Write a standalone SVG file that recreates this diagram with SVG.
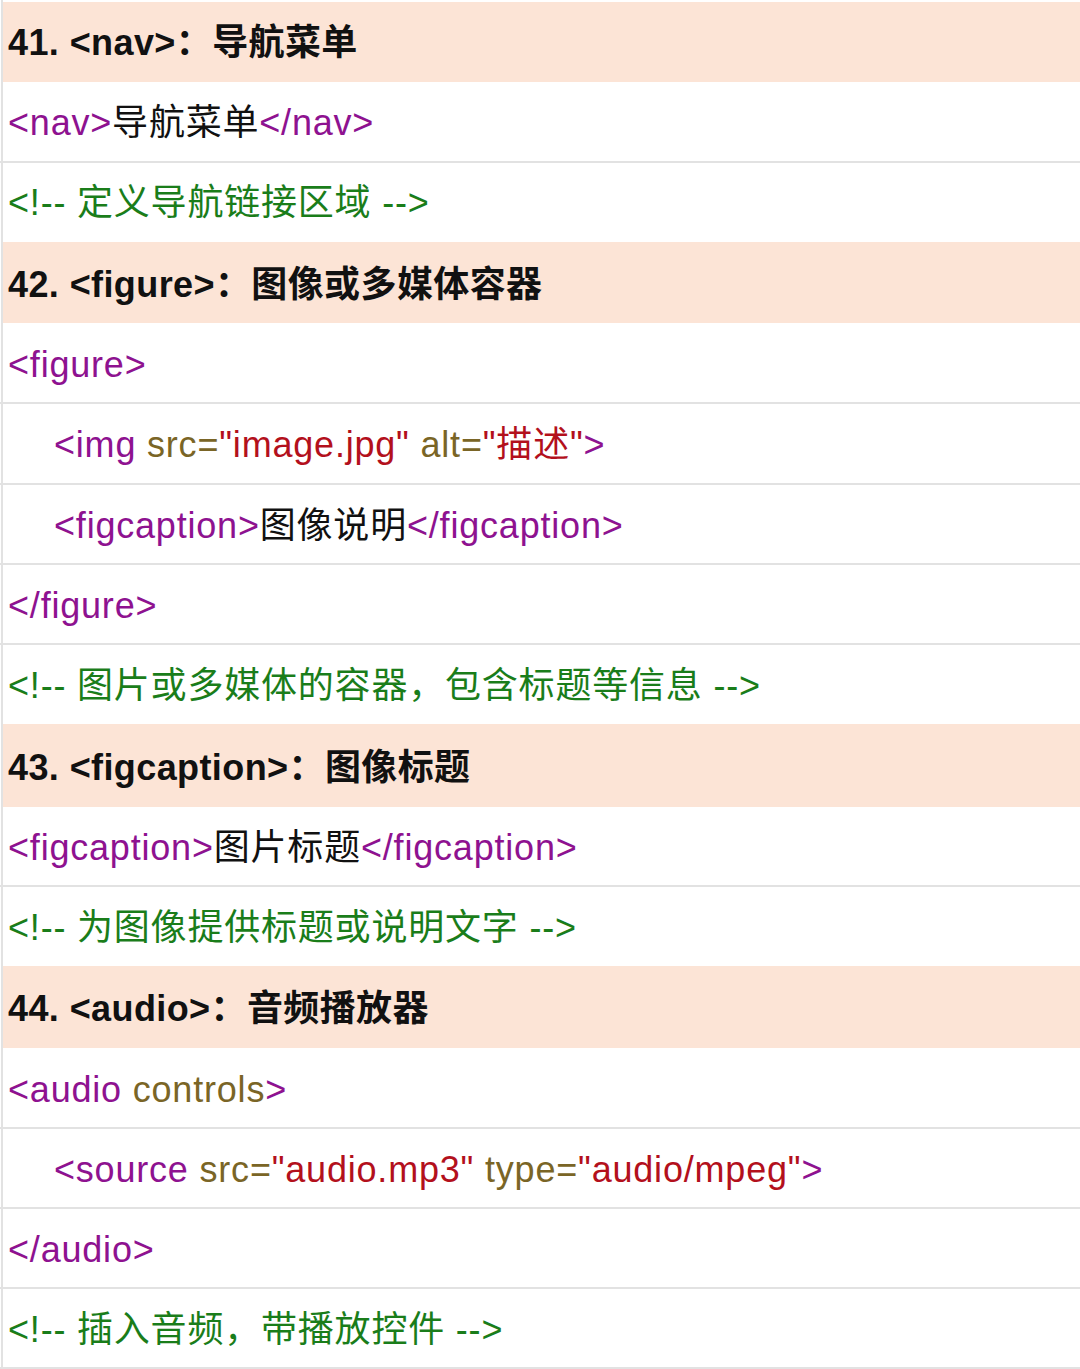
<svg xmlns="http://www.w3.org/2000/svg" width="1080" height="1369" viewBox="0 0 1080 1369">
<style>
text{font-family:"Liberation Sans","Noto Sans CJK SC",sans-serif;font-size:36px;fill:#111;letter-spacing:0.8px}
.b{font-weight:bold;letter-spacing:0.4px}
.h{fill:#fce4d6}
.t{fill:#8e1290}.a{fill:#7a6526}.s{fill:#b3101c}.c{fill:#1a7d1a}
</style>
<rect width="1080" height="1369" fill="#fff"/>
<g id="rows">
<rect class="h" x="2" y="2" width="1078" height="80"/>
<rect class="h" x="2" y="242" width="1078" height="81"/>
<rect class="h" x="2" y="724" width="1078" height="83"/>
<rect class="h" x="2" y="966" width="1078" height="82"/>
<g stroke="#e2e2e2" stroke-width="2">
<line x1="2" y1="0" x2="2" y2="1369"/>
<line x1="0" y1="162" x2="1080" y2="162"/>
<line x1="0" y1="403" x2="1080" y2="403"/>
<line x1="0" y1="484" x2="1080" y2="484"/>
<line x1="0" y1="564" x2="1080" y2="564"/>
<line x1="0" y1="644" x2="1080" y2="644"/>
<line x1="0" y1="886" x2="1080" y2="886"/>
<line x1="0" y1="1128" x2="1080" y2="1128"/>
<line x1="0" y1="1208" x2="1080" y2="1208"/>
<line x1="0" y1="1288" x2="1080" y2="1288"/>
<line x1="0" y1="1368" x2="1080" y2="1368"/>
</g>
</g>
<g id="text">
<text class="b" x="8" y="55">41. &lt;nav&gt;：导航菜单</text>
<text x="8" y="135"><tspan class="t">&lt;nav&gt;</tspan>导航菜单<tspan class="t">&lt;/nav&gt;</tspan></text>
<text x="8" y="215" class="c">&lt;!-- 定义导航链接区域 --&gt;</text>
<text class="b" x="8" y="297">42. &lt;figure&gt;：图像或多媒体容器</text>
<text x="8" y="377" class="t">&lt;figure&gt;</text>
<text x="54" y="457"><tspan class="t">&lt;img</tspan><tspan class="a"> src=</tspan><tspan class="s">"image.jpg"</tspan><tspan class="a"> alt=</tspan><tspan class="s">"描述"</tspan><tspan class="t">&gt;</tspan></text>
<text x="54" y="538"><tspan class="t">&lt;figcaption&gt;</tspan>图像说明<tspan class="t">&lt;/figcaption&gt;</tspan></text>
<text x="8" y="618" class="t">&lt;/figure&gt;</text>
<text x="8" y="698" class="c">&lt;!-- 图片或多媒体的容器，包含标题等信息 --&gt;</text>
<text class="b" x="8" y="780">43. &lt;figcaption&gt;：图像标题</text>
<text x="8" y="860"><tspan class="t">&lt;figcaption&gt;</tspan>图片标题<tspan class="t">&lt;/figcaption&gt;</tspan></text>
<text x="8" y="940" class="c">&lt;!-- 为图像提供标题或说明文字 --&gt;</text>
<text class="b" x="8" y="1021">44. &lt;audio&gt;：音频播放器</text>
<text x="8" y="1102"><tspan class="t">&lt;audio</tspan><tspan class="a"> controls</tspan><tspan class="t">&gt;</tspan></text>
<text x="54" y="1182"><tspan class="t">&lt;source</tspan><tspan class="a"> src=</tspan><tspan class="s">"audio.mp3"</tspan><tspan class="a"> type=</tspan><tspan class="s">"audio/mpeg"</tspan><tspan class="t">&gt;</tspan></text>
<text x="8" y="1262" class="t">&lt;/audio&gt;</text>
<text x="8" y="1342" class="c">&lt;!-- 插入音频，带播放控件 --&gt;</text>
</g>
</svg>
